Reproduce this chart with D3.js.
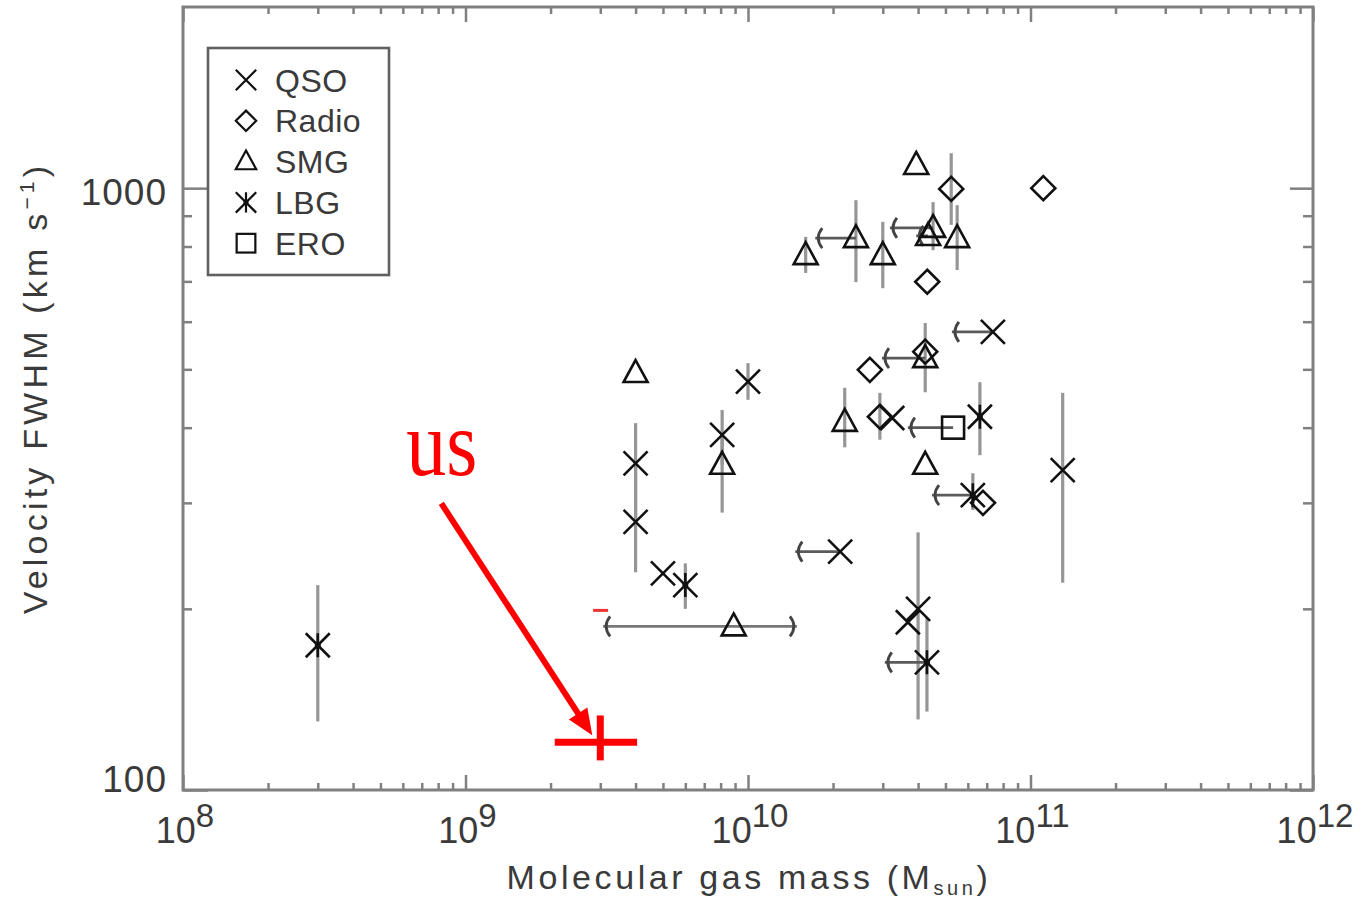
<!DOCTYPE html>
<html>
<head>
<meta charset="utf-8">
<script src="https://cdn.jsdelivr.net/npm/d3@7"></script>
<style>
  body { margin: 0; background: #fff; }
  text { font-family: "Liberation Sans", Arial, sans-serif; fill: #3a3a3a; }
</style>
</head>
<body>
<svg id="chart" width="1362" height="900"></svg>
<script>
// Molecular gas mass (Msun) vs CO line FWHM (km/s) for high-z populations.
// lo/hi: FWHM error bar; lim: upper-limit arrow pointing to this mass;
// rlo/rhi: mass range bar.
const qso = [
  { m: 4.0e9,  v: 349, lo: 279, hi: 407 },
  { m: 4.0e9,  v: 279, lo: 230, hi: 349 },
  { m: 5.0e9,  v: 229 },
  { m: 8.1e9,  v: 389, lo: 347, hi: 428 },
  { m: 1.0e10, v: 477, lo: 445, hi: 512 },
  { m: 7.36e10, v: 577, lim: 5.27e10 },
  { m: 3.24e10, v: 415 },
  { m: 2.12e10, v: 249, lim: 1.47e10 },
  { m: 4.0e10, v: 200, lo: 131, hi: 268 },
  { m: 3.68e10, v: 190 },
  { m: 1.30e11, v: 340, lo: 221, hi: 457 }
];
const radio = [
  { m: 5.24e10, v: 997, lo: 869, hi: 1143 },
  { m: 1.11e11, v: 1000 },
  { m: 4.31e10, v: 699 },
  { m: 4.24e10, v: 535 },
  { m: 2.7e10,  v: 499 },
  { m: 2.93e10, v: 417, lo: 382, hi: 457 },
  { m: 6.79e10, v: 300 }
];
const smg = [
  { m: 4.0e9,  v: 493 },
  { m: 8.9e9,  v: 187, rlo: 3.07e9, rhi: 1.49e10 },
  { m: 8.1e9,  v: 347, lo: 289, hi: 389 },
  { m: 3.94e10, v: 1093 },
  { m: 5.5e10, v: 826, lo: 731, hi: 937 },
  { m: 2.41e10, v: 826, lo: 698, hi: 955, lim: 1.73e10 },
  { m: 1.6e10, v: 774, lo: 723, hi: 830 },
  { m: 3.0e10, v: 774, lo: 682, hi: 879 },
  { m: 4.52e10, v: 859, lo: 789, hi: 948, lim: 3.18e10 },
  { m: 4.34e10, v: 833, lim: 3.94e10 },
  { m: 4.24e10, v: 522, lo: 458, hi: 597, lim: 2.98e10 },
  { m: 2.2e10, v: 409, lo: 371, hi: 466 },
  { m: 4.24e10, v: 347 }
];
const lbg = [
  { m: 3.0e8,  v: 174, lo: 130, hi: 219 },
  { m: 6.0e9,  v: 219, lo: 200, hi: 238 },
  { m: 6.62e10, v: 417, lo: 360, hi: 476 },
  { m: 6.25e10, v: 309, lo: 292, hi: 336, lim: 4.48e10 },
  { m: 4.3e10, v: 163, lo: 135, hi: 193, lim: 3.05e10 }
];
const ero = [
  { m: 5.32e10, v: 400, lim: 3.68e10 }
];

// our own measurement
const usMass = 3.0e9, usFwhm = 120;
const usMassRange = [2.07e9, 4.05e9];
const usFwhmRange = [112, 133];

const legendLabels = ["QSO", "Radio", "SMG", "LBG", "ERO"];
const xMajor = [1e8, 1e9, 1e10, 1e11, 1e12];
const xExponents = ["8", "9", "10", "11", "12"];
const yMajor = [100, 1000];
const yMajorLabels = ["100", "1000"];

const svg = d3.select("#chart");
const x = d3.scaleLog().domain([1e8, 1e12]).range([183, 1313]);
const y = d3.scaleLog().domain([100, 2000]).range([790, 7]);

const axisCol = "#808080";

// minor tick values
const xMinor = [];
for (let d = 8; d < 12; d++) for (let k = 2; k <= 9; k++) xMinor.push(k * Math.pow(10, d));
const yMinor = [200, 300, 400, 500, 600, 700, 800, 900];

function styleAxis(g) {
  g.select(".domain").remove();
  g.selectAll(".tick line").attr("stroke", axisCol).attr("stroke-width", 2.5);
}

// bottom
svg.append("g").attr("transform", "translate(0,790)")
  .call(d3.axisBottom(x).tickValues(xMajor).tickSize(-15).tickFormat(""))
  .call(styleAxis);
svg.append("g").attr("transform", "translate(0,790)")
  .call(d3.axisBottom(x).tickValues(xMinor).tickSize(-7).tickFormat(""))
  .call(styleAxis);
// top
svg.append("g").attr("transform", "translate(0,7)")
  .call(d3.axisTop(x).tickValues(xMajor).tickSize(-15).tickFormat(""))
  .call(styleAxis);
svg.append("g").attr("transform", "translate(0,7)")
  .call(d3.axisTop(x).tickValues(xMinor).tickSize(-7).tickFormat(""))
  .call(styleAxis);
// left
svg.append("g").attr("transform", "translate(183,0)")
  .call(d3.axisLeft(y).tickValues(yMajor).tickSize(-25).tickPadding(16)
        .tickFormat((d, i) => yMajorLabels[i]))
  .call(styleAxis)
  .call(g => g.selectAll("text")
        .attr("font-size", 37).attr("letter-spacing", 1)
        .attr("dy", d => d === 100 ? "0.05em" : "0.44em")
        .style("font-family", "Liberation Sans, Arial, sans-serif").attr("fill", "#3a3a3a"));
svg.append("g").attr("transform", "translate(183,0)")
  .call(d3.axisLeft(y).tickValues(yMinor).tickSize(-9).tickFormat(""))
  .call(styleAxis);
// right
svg.append("g").attr("transform", "translate(1313,0)")
  .call(d3.axisRight(y).tickValues(yMajor).tickSize(-23).tickFormat(""))
  .call(styleAxis);
svg.append("g").attr("transform", "translate(1313,0)")
  .call(d3.axisRight(y).tickValues(yMinor).tickSize(-10).tickFormat(""))
  .call(styleAxis);

// frame
svg.append("rect")
  .attr("x", x(1e8)).attr("y", y(2000))
  .attr("width", x(1e12) - x(1e8)).attr("height", y(100) - y(2000))
  .attr("fill", "none").attr("stroke", axisCol).attr("stroke-width", 3);

// x tick labels 10^n
const xl = svg.append("g");
xMajor.forEach((v, i) => {
  const t = xl.append("text")
    .attr("x", x(v) + 2).attr("y", 843)
    .attr("text-anchor", "middle").attr("font-size", 36);
  t.append("tspan").text("10");
  t.append("tspan").attr("dy", -16).attr("font-size", 33).text(xExponents[i]);
});

// axis titles
const xt = svg.append("text")
  .attr("x", (x(1e8) + x(1e12)) / 2 + 1).attr("y", 889)
  .attr("text-anchor", "middle").attr("font-size", 34)
  .attr("letter-spacing", 3.6);
xt.append("tspan").text("Molecular gas mass (M");
xt.append("tspan").attr("font-size", 20).attr("dy", 6).text("sun");
xt.append("tspan").attr("dy", -6).text(")");

const yt = svg.append("text")
  .attr("transform", "translate(47,388) rotate(-90)")
  .attr("text-anchor", "middle").attr("font-size", 34)
  .attr("letter-spacing", 4.2);
yt.append("tspan").text("Velocity FWHM (km s");
yt.append("tspan").attr("font-size", 21).attr("dy", -13).text("−1");
yt.append("tspan").attr("dy", 13).text(")");

// marker shapes
function drawMarker(g, type, cx, cy) {
  const s = g.append("g").attr("transform", `translate(${cx},${cy})`)
    .attr("fill", "none").attr("stroke", "#111").attr("stroke-width", 2.6)
    .attr("stroke-linejoin", "miter");
  const r = 12;
  if (type === "QSO") {
    s.append("path").attr("d", `M${-r},${-r}L${r},${r}M${-r},${r}L${r},${-r}`);
  } else if (type === "Radio") {
    s.append("path").attr("d", `M0,${-r}L${r},0L0,${r}L${-r},0Z`);
  } else if (type === "SMG") {
    s.append("path").attr("d", `M0,${-13}L${12},${9}L${-12},${9}Z`);
  } else if (type === "LBG") {
    s.append("path").attr("d", `M${-r},${-r}L${r},${r}M${-r},${r}L${r},${-r}M0,${-r}L0,${r}`);
    s.append("circle").attr("r", 3).attr("fill", "#111").attr("stroke", "none");
  } else if (type === "ERO") {
    s.append("rect").attr("x", -11).attr("y", -11).attr("width", 22).attr("height", 22);
  }
}

function arrowHead(g, xp, yp, dir) {
  // dir = -1 for leftward tip, +1 for rightward tip
  g.append("path")
    .attr("d", `M${xp - dir * 7},${yp - 10}Q${xp + dir * 1},${yp} ${xp - dir * 7},${yp + 10}`)
    .attr("fill", "none").attr("stroke", "#444").attr("stroke-width", 2.8);
}

const bars = svg.append("g");
const lims = svg.append("g");
const marks = svg.append("g");

const groups = [
  ["QSO", qso], ["Radio", radio], ["SMG", smg], ["LBG", lbg], ["ERO", ero]
];

groups.forEach(([type, data]) => {
  data.forEach(d => {
    if (d.lo !== undefined) {
      bars.append("line")
        .attr("x1", x(d.m)).attr("x2", x(d.m))
        .attr("y1", y(d.lo)).attr("y2", y(d.hi))
        .attr("stroke", "#969696").attr("stroke-width", 3.2);
    }
    if (d.lim !== undefined) {
      lims.append("line")
        .attr("x1", x(d.m)).attr("x2", x(d.lim))
        .attr("y1", y(d.v)).attr("y2", y(d.v))
        .attr("stroke", "#5a5a5a").attr("stroke-width", 2.8);
      arrowHead(lims, x(d.lim), y(d.v), -1);
    }
    if (d.rlo !== undefined) {
      lims.append("line")
        .attr("x1", x(d.rlo)).attr("x2", x(d.rhi))
        .attr("y1", y(d.v)).attr("y2", y(d.v))
        .attr("stroke", "#777").attr("stroke-width", 2.6);
      arrowHead(lims, x(d.rlo), y(d.v), -1);
      arrowHead(lims, x(d.rhi), y(d.v), 1);
      // small red tick left over at the bar's lower end
      lims.append("line")
        .attr("x1", x(d.rlo) - 10).attr("x2", x(d.rlo) + 5)
        .attr("y1", y(d.v) - 16).attr("y2", y(d.v) - 16)
        .attr("stroke", "#e33").attr("stroke-width", 3);
    }
    drawMarker(marks, type, x(d.m), y(d.v));
  });
});

// legend
const lg = svg.append("g");
lg.append("rect").attr("x", 208).attr("y", 48).attr("width", 181).attr("height", 227)
  .attr("fill", "#fff").attr("stroke", "#606060").attr("stroke-width", 2.6);
legendLabels.forEach((lab, i) => {
  const cy = 80 + i * 40.8;
  const sg = lg.append("g").attr("transform", `translate(246,${cy}) scale(0.85)`);
  drawMarker(sg, lab, 0, 0);
  lg.append("text").attr("x", 275).attr("y", cy).attr("dy", "0.36em")
    .attr("font-size", 32).attr("letter-spacing", 0.5).text(lab);
});

// our point in red
const red = "#ff0000";
const ux = x(usMass), uy = y(usFwhm);
const ann = svg.append("g");
ann.append("line")
  .attr("x1", x(usMassRange[0])).attr("x2", x(usMassRange[1]))
  .attr("y1", uy).attr("y2", uy)
  .attr("stroke", red).attr("stroke-width", 7);
ann.append("line")
  .attr("x1", ux).attr("x2", ux)
  .attr("y1", y(usFwhmRange[0])).attr("y2", y(usFwhmRange[1]))
  .attr("stroke", red).attr("stroke-width", 7);

// label and arrow
const tipX = ux - 8, tipY = uy - 7;
const startX = tipX - 151, startY = tipY - 232;
const ang = Math.atan2(tipY - startY, tipX - startX);
const headLen = 26, headW = 11;
const bx = tipX - headLen * Math.cos(ang), by = tipY - headLen * Math.sin(ang);
ann.append("line")
  .attr("x1", startX).attr("y1", startY).attr("x2", bx + 4 * Math.cos(ang)).attr("y2", by + 4 * Math.sin(ang))
  .attr("stroke", red).attr("stroke-width", 6);
ann.append("path")
  .attr("d", `M${tipX},${tipY}L${bx + headW * Math.sin(ang)},${by - headW * Math.cos(ang)}L${bx - headW * Math.sin(ang)},${by + headW * Math.cos(ang)}Z`)
  .attr("fill", red);
ann.append("text")
  .attr("transform", `translate(${startX - 35},${startY - 28}) scale(1,1.17)`)
  .style("font-family", "'Liberation Serif', 'Times New Roman', serif")
  .style("fill", red)
  .attr("font-size", 80).text("us");
</script>
</body>
</html>
